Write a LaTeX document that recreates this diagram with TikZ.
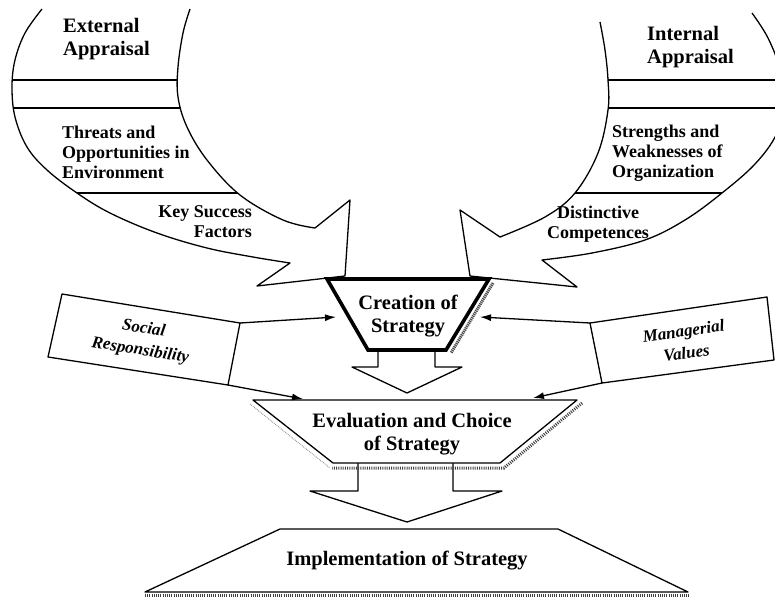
\documentclass[tikz,border=0pt]{standalone}
\usepackage{fontspec}
\setmainfont{Liberation Serif}
\usetikzlibrary{arrows.meta}

% left curved band (External Appraisal)
\def\bandL{plot[smooth, tension=0.6] coordinates {(42,9) (25,33) (15,60) (12,87) (15,117) (27,147) (47,170) (77,193) (110,213) (157,233) (207,248) (253,257) (290,263)}
  -- (257,286) -- (345,276) -- (350,200) --
  plot[smooth, tension=0.6] coordinates {(315,228) (283,220) (240,195) (207,160) (187,127) (178,97) (178,67) (183,33) (190,9)}}
% right curved band (Internal Appraisal)
\def\bandR{plot[smooth, tension=0.6] coordinates {(752,13) (768,38) (780,70) (783,105) (776,135) (755,164) (722,193) (685,220) (645,240) (592,253) (542,260)}
  -- (577,287) -- (470,276) -- (460,210) --
  plot[smooth, tension=0.6] coordinates {(500,237) (545,217) (575,193) (598,153) (608,110) (608,80) (605,50) (600,22)}}

\tikzset{
  outline/.style={line width=1.3pt, line join=round},
  txt/.style={font=\bfseries\fontsize{18}{20}\selectfont, inner sep=0pt},
  head/.style={font=\bfseries\fontsize{20.5}{23}\selectfont, inner sep=0pt},
  side/.style={font=\bfseries\itshape\fontsize{17}{22}\selectfont, inner sep=0pt, align=center},
  feed/.style={line width=1.3pt, -{Latex[length=11pt,width=7pt]}},
  hatch/.style={line width=3pt, dash pattern=on 1pt off 1.2pt, black!75},
}

\begin{document}
\begin{tikzpicture}[x=1pt,y=-1pt]
\useasboundingbox (0,0) rectangle (775,600);
\clip (0,0) rectangle (775,600);

% ---- curved appraisal bands ----
\fill[white] \bandL;
\begin{scope}
  \clip \bandL;
  \draw[outline] (0,80) -- (260,80);
  \draw[outline] (0,108) -- (260,108);
  \draw[outline] (40,193) -- (300,193);
\end{scope}
\draw[outline] \bandL;

\fill[white] \bandR;
\begin{scope}
  \clip \bandR;
  \draw[outline] (560,80) -- (800,80);
  \draw[outline] (560,108) -- (800,108);
  \draw[outline] (540,193) -- (800,193);
\end{scope}
\draw[outline] \bandR;

\node[head, align=left, anchor=west] (ext) at (63,39) {External\\Appraisal};
\node[head, align=left, anchor=west] (int) at (647,47) {Internal\\Appraisal};
\node[txt, align=left, anchor=west] (threats) at (62,152) {Threats and\\Opportunities in\\Environment};
\node[txt, align=right, anchor=east] (ksf) at (252,222) {Key Success\\Factors};
\node[txt, align=left, anchor=west] (sw) at (612,153) {Strengths and\\Weaknesses of\\Organization};
\node[txt, align=center] (dc) at (598,224) {Distinctive\\Competences};

% ---- creation of strategy ----
\coordinate (c1) at (327,279);
\coordinate (c2) at (489,279);
\coordinate (c3) at (446,350);
\coordinate (c4) at (368,350);
\draw[outline, fill=white] (378,349) -- (378,367) -- (352,367) -- (407,393) -- (462,367) -- (435,367) -- (435,349);
\draw[line width=3pt, black!70, dash pattern=on 1.2pt off 0.8pt] (493,283) -- (451,353);
\fill[white] (c1) -- (c2) -- (c3) -- (c4) -- cycle;
\draw[line width=3.6pt, line join=miter] (c1) -- (c2) -- (c3) -- (c4) -- cycle;
\node[head, align=center] (create) at (408,316) {Creation of\\Strategy};
\coordinate (cL) at (336,317);
\coordinate (cR) at (480,317);

% ---- evaluation and choice ----
\draw[outline, fill=white] (358,463) -- (358,491) -- (310,491) -- (407,522) -- (502,491) -- (453,491) -- (453,463);
\draw[hatch] (582,403) -- (504,468) -- (332,468);
\draw[black!50, densely dotted, line width=0.8pt] (250,404) -- (330,468);
\draw[outline, fill=white] (253,400) -- (577,400) -- (500,463) -- (333,463) -- cycle;
\node[head, align=center] (eval) at (412,434) {Evaluation and Choice\\of Strategy};
\coordinate (eL) at (303,399);
\coordinate (eR) at (533,398);

% ---- implementation ----
\draw[hatch] (145,595) -- (690,595);
\draw[outline, fill=white] (280,529) -- (558,529) -- (688,592) -- (145,592) -- cycle;
\node[head] (impl) at (407,561) {Implementation of Strategy};

% ---- social responsibility ----
\coordinate (s1) at (62,294);
\coordinate (s2) at (240,323);
\coordinate (s3) at (228,385);
\coordinate (s4) at (48,357);
\draw[outline, fill=white] (s1) -- (s2) -- (s3) -- (s4) -- cycle;
\node[side, rotate=-9] (soc) at (142,340) {Social\\Responsibility};
\draw[feed] (s2) -- (cL);
\draw[feed] (s3) -- (eL);

% ---- managerial values ----
\coordinate (m1) at (590,323);
\coordinate (m2) at (767,297);
\coordinate (m3) at (774,360);
\coordinate (m4) at (602,383);
\draw[outline, fill=white] (m1) -- (m2) -- (m3) -- (m4) -- cycle;
\node[side, rotate=8] (mgr) at (685,342) {Managerial\\Values};
\draw[feed] (m1) -- (cR);
\draw[feed] (m4) -- (eR);
\end{tikzpicture}
\end{document}
